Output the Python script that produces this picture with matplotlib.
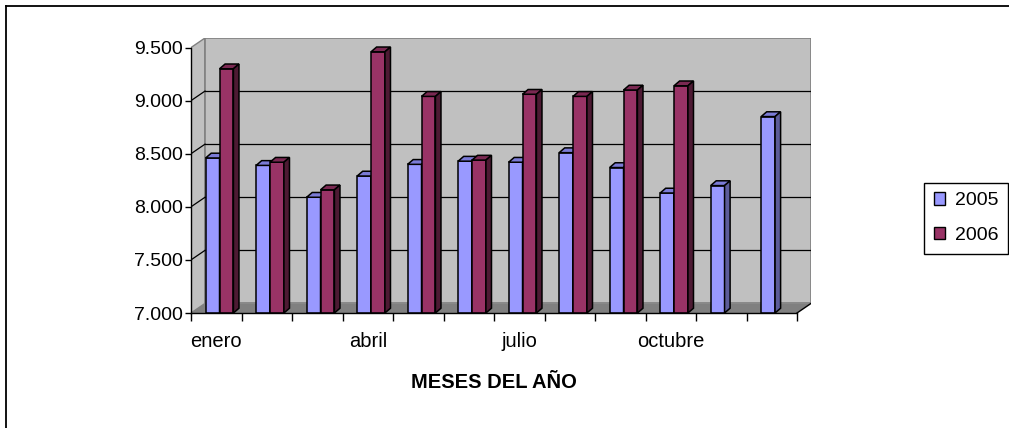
import numpy as np
import matplotlib
matplotlib.use("Agg")
import matplotlib.pyplot as plt
from matplotlib.patches import Polygon, Rectangle, Patch
from matplotlib.lines import Line2D

plt.rcParams['font.family'] = ['Liberation Sans', 'DejaVu Sans']

# ---- data -------------------------------------------------------------
months = ["enero", "febrero", "marzo", "abril", "mayo", "junio", "julio",
          "agosto", "septiembre", "octubre", "noviembre", "diciembre"]
series_names = ["2005", "2006"]
values_2005 = [8460, 8390, 8090, 8290, 8400, 8430, 8420, 8510, 8370, 8130, 8200, 8850]
values_2006 = [9300, 8420, 8160, 9460, 9040, 8440, 9060, 9040, 9100, 9140, np.nan, np.nan]
y_ticks = [7000, 7500, 8000, 8500, 9000, 9500]
y_tick_labels = ["7.000", "7.500", "8.000", "8.500", "9.000", "9.500"]
x_label = "MESES DEL AÑO"

# ---- style ------------------------------------------------------------
front_colors = ["#9999FF", "#993366"]
top_colors = ["#7B7BD6", "#7A2952"]
side_colors = ["#5C5C99", "#4D1A33"]
WALL = "#C0C0C0"
FLOOR = "#808080"

n = len(months)
y_min, y_max = 7000, 9500
WALL_DX, WALL_DY = 0.277, 90      # depth of the plot box (data units)
BAR_DX, BAR_DY = 0.11, 45         # depth of each column
BAR_OFF, BAR_W = 0.29, 0.275      # column offset inside a category, column width

fig = plt.figure(figsize=(10.09, 4.28), dpi=100)
ax = fig.add_axes([191 / 1009, 115 / 428, 620 / 1009, 275 / 428])
ax.set_xlim(0, n + WALL_DX)
ax.set_ylim(y_min, y_max + WALL_DY)

# walls and floor
side_wall = Polygon([(0, y_min), (WALL_DX, y_min + WALL_DY),
                     (WALL_DX, y_max + WALL_DY), (0, y_max)],
                    closed=True, facecolor=WALL, edgecolor=FLOOR, lw=1, zorder=0.5)
back_wall = Rectangle((WALL_DX, y_min + WALL_DY), n, y_max - y_min,
                      facecolor=WALL, edgecolor=FLOOR, lw=1.2, zorder=0.5)
floor = Polygon([(0, y_min), (n, y_min), (n + WALL_DX, y_min + WALL_DY),
                 (WALL_DX, y_min + WALL_DY)],
                closed=True, facecolor=FLOOR, edgecolor="none", zorder=0.6)
for p in (side_wall, back_wall, floor):
    ax.add_patch(p)
ax.plot([n, n + WALL_DX], [y_min, y_min + WALL_DY], color="black", lw=1, zorder=0.7)

# gridlines on the back wall and the side wall
for v in y_ticks[1:-1]:
    ax.plot([WALL_DX, n + WALL_DX], [v + WALL_DY] * 2, color="black", lw=0.9, zorder=0.7)
    ax.plot([0, WALL_DX], [v, v + WALL_DY], color="black", lw=0.9, zorder=0.7)

# columns
x = np.arange(n)
handles = []
for s, vals in enumerate([values_2005, values_2006]):
    vals = np.asarray(vals, dtype=float)
    left = x + BAR_OFF + s * BAR_W
    ok = ~np.isnan(vals)
    ax.bar(left[ok], vals[ok] - y_min, width=BAR_W, bottom=y_min, align="edge",
           color=front_colors[s], edgecolor="black", lw=1.1, zorder=2 + s)
    for x0, v in zip(left[ok], vals[ok]):
        top = Polygon([(x0, v), (x0 + BAR_W, v), (x0 + BAR_W + BAR_DX, v + BAR_DY),
                       (x0 + BAR_DX, v + BAR_DY)], closed=True,
                      facecolor=top_colors[s], edgecolor="black", lw=1.1, zorder=2 + s)
        side = Polygon([(x0 + BAR_W, y_min), (x0 + BAR_W + BAR_DX, y_min + BAR_DY),
                        (x0 + BAR_W + BAR_DX, v + BAR_DY), (x0 + BAR_W, v)], closed=True,
                       facecolor=side_colors[s], edgecolor="black", lw=1.1, zorder=2 + s)
        ax.add_patch(top)
        ax.add_patch(side)
    handles.append(Patch(facecolor=front_colors[s], edgecolor="black", lw=1))

# axes lines and ticks
for sp in ("top", "right"):
    ax.spines[sp].set_visible(False)
ax.spines["left"].set_bounds(y_min, y_max)
ax.spines["bottom"].set_bounds(0, n)
for sp in ("left", "bottom"):
    ax.spines[sp].set_color("black")
    ax.spines[sp].set_linewidth(1)
    ax.spines[sp].set_zorder(5)

ax.set_yticks(y_ticks)
ax.set_yticklabels(y_tick_labels)
ax.tick_params(axis="y", direction="out", length=4, width=1, pad=1.5, labelsize=14)

label_pos = x[::3] + 0.5
ax.set_xticks(label_pos)
ax.set_xticklabels(months[::3])
ax.set_xticks(np.arange(n + 1), minor=True)
ax.tick_params(axis="x", which="major", length=0, pad=14, labelsize=14.5)
ax.tick_params(axis="x", which="minor", direction="out", length=6, width=1)

ax.set_xlabel(x_label, fontsize=14.5, fontweight="bold")
ax.xaxis.set_label_coords((n / 2) / (n + WALL_DX), -69 / 275)
ax.xaxis.label.set_va("center")

fig.legend(handles, series_names, loc="center",
           bbox_to_anchor=(966 / 1009, 1 - 218 / 428), fontsize=14,
           frameon=True, fancybox=False, edgecolor="black", framealpha=1,
           handlelength=0.6, handleheight=0.6, handletextpad=0.5,
           labelspacing=0.9, borderpad=0.5, borderaxespad=0)
fig.legends[0].get_frame().set_linewidth(1)

# outer frame lines
fig.add_artist(Line2D([6 / 1009, 6 / 1009], [0, 1 - 5.5 / 428],
                      transform=fig.transFigure, color="black", lw=1.3))
fig.add_artist(Line2D([6 / 1009, 1], [1 - 5.5 / 428, 1 - 5.5 / 428],
                      transform=fig.transFigure, color="black", lw=1.3))

fig.savefig("out.png", dpi=100)
